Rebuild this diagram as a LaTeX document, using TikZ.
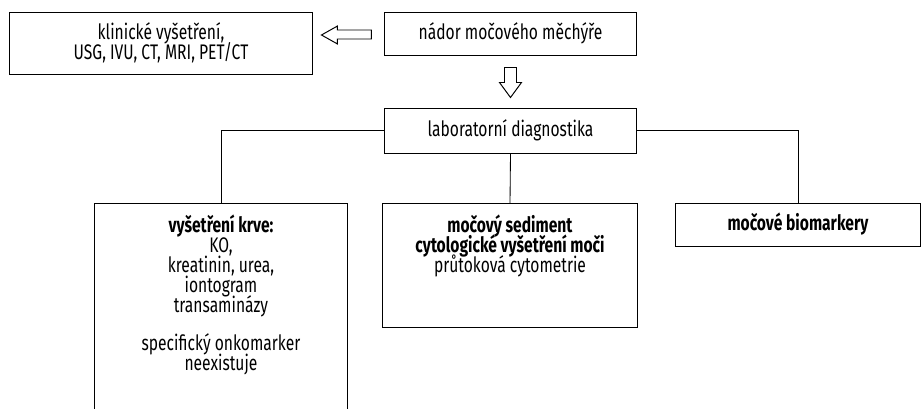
\documentclass[tikz,border=0pt]{standalone}
\usepackage{fontspec}
\setmainfont[FakeStretch=0.74]{Fira Sans}
\usetikzlibrary{calc}
\newcommand\boxfont{\fontsize{15}{14.2}\selectfont\setlength{\lineskiplimit}{-100pt}}
\begin{document}
\begin{tikzpicture}[x=0.025cm,y=-0.025cm,
		box/.style={draw, line width=0.7pt, align=center, inner sep=0pt, font=\boxfont},
		hollow/.style={draw, line width=0.7pt, line join=miter}]
			\useasboundingbox (0,0) rectangle (921,408);
			\clip (0,0) rectangle (921,408);
			\node[box, minimum width=7.55cm, minimum height=1.55cm] (P_-1_0) at (161,43) {klinické vyšetření,\\USG, IVU, CT, MRI, PET/CT};
			\node[box, minimum width=6.275cm, minimum height=1.075cm] (P_0_0) at (510.5,33.5) {nádor močového měchýře};
			\draw[hollow] ($(P_0_0.west)+(-13,-3.5)$) -- ++(-34,0) -- ++(0,-4) -- ++(-16,9) -- ++(16,9) -- ++(0,-5) -- ++(34,0) -- cycle;
			\node[box, minimum width=6.275cm, minimum height=1.125cm] (P_0_1) at (510.5,130.5) {laboratorní diagnostika};
			\draw[hollow] ($(P_0_0.south)+(-6,12)$) -- ++(12,0) -- ++(0,15) -- ++(5,0) -- ++(-11,15) -- ++(-11,-15) -- ++(5,0) -- cycle;
			\node[box, anchor=north, minimum width=6.3cm, minimum height=5.3cm, text depth=4.45cm, inner ysep=8pt] (P_-1_2) at (221,203) {\textbf{vyšetření krve:}\\KO,\\kreatinin, urea,\\iontogram\\transaminázy\\[12.8pt]specifický onkomarker\\neexistuje};
			\draw[line width=0.6pt] (P_0_1.west) -| (P_-1_2.north);
			\node[box, anchor=north, minimum width=6.35cm, minimum height=2.275cm, text depth=1.1cm, inner ysep=8pt] (P_0_2) at (510,203) {\textbf{močový sediment}\\\textbf{cytologické vyšetření moči}\\průtoková cytometrie};
			\draw[line width=0.6pt] (P_0_1.south) -- (P_0_2.north);
			\node[box, minimum width=6.1cm, minimum height=1.075cm] (P_1_2) at (798,224.5) {\textbf{močové biomarkery}};
			\draw[line width=0.6pt] (P_0_1.east) -| (P_1_2.north);
		\end{tikzpicture}
\end{document}
